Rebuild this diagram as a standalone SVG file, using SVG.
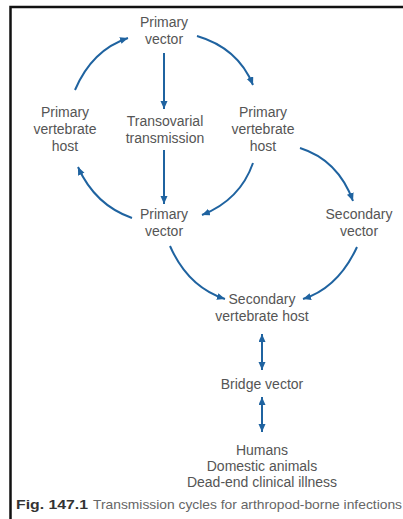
<svg xmlns="http://www.w3.org/2000/svg" width="403" height="519" viewBox="0 0 403 519">
<defs>
<marker id="ah" markerUnits="userSpaceOnUse" markerWidth="9" markerHeight="8" refX="8" refY="3.5" orient="auto-start-reverse">
<path d="M0,0 L8,3.5 L0,7 z" fill="#1f63a0"/>
</marker>
<style>
.t{font-family:"Liberation Sans",Arial,sans-serif;font-size:14px;fill:#555;text-anchor:middle}
.c{fill:none;stroke:#1f63a0;stroke-width:2}
.cap{font-family:"Liberation Sans",Arial,sans-serif;font-size:13px;fill:#666}
</style>
</defs>
<rect width="403" height="519" fill="#fff"/>
<path d="M10.5,519 V7 H403" fill="none" stroke="#111" stroke-width="2.5"/>
<g id="primary-vector-top"><text class="t" x="164" y="27">Primary</text><text class="t" x="164" y="44">vector</text></g>
<g id="primary-host-left"><text class="t" x="65" y="117">Primary</text><text class="t" x="65" y="134">vertebrate</text><text class="t" x="65" y="151">host</text></g>
<g id="transovarial"><text class="t" x="165" y="126">Transovarial</text><text class="t" x="165" y="143">transmission</text></g>
<g id="primary-host-right"><text class="t" x="263" y="117">Primary</text><text class="t" x="263" y="134">vertebrate</text><text class="t" x="263" y="151">host</text></g>
<g id="primary-vector-mid"><text class="t" x="164" y="219">Primary</text><text class="t" x="164" y="236">vector</text></g>
<g id="secondary-vector"><text class="t" x="359" y="219">Secondary</text><text class="t" x="359" y="236">vector</text></g>
<g id="secondary-host"><text class="t" x="262" y="304">Secondary</text><text class="t" x="262" y="321">vertebrate host</text></g>
<g id="bridge-vector"><text class="t" x="262" y="389">Bridge vector</text></g>
<g id="dead-end"><text class="t" x="262" y="455">Humans</text><text class="t" x="262" y="471">Domestic animals</text><text class="t" x="262" y="487">Dead-end clinical illness</text></g>
<g id="connectors">
<path class="c" d="M75,90 Q92,50 128,38" marker-end="url(#ah)"/>
<path class="c" d="M197,36 Q238,48 253,85" marker-end="url(#ah)"/>
<path class="c" d="M164,53 V109" marker-end="url(#ah)"/>
<path class="c" d="M164,150 V204" marker-end="url(#ah)"/>
<path class="c" d="M132,218 Q95,205 78,167" marker-end="url(#ah)"/>
<path class="c" d="M253,163 Q240,200 202,215" marker-end="url(#ah)"/>
<path class="c" d="M300,148 Q338,160 353,201" marker-end="url(#ah)"/>
<path class="c" d="M170,246 Q188,287 225,299" marker-end="url(#ah)"/>
<path class="c" d="M357,247 Q338,288 303,299" marker-end="url(#ah)"/>
<path class="c" d="M262,334 V370" marker-start="url(#ah)" marker-end="url(#ah)"/>
<path class="c" d="M262,397 V432" marker-start="url(#ah)" marker-end="url(#ah)"/>
</g>
<g id="caption">
<text class="cap" x="16" y="509" textLength="72" lengthAdjust="spacingAndGlyphs" style="font-weight:bold;fill:#333">Fig. 147.1</text>
<text class="cap" x="93" y="509" textLength="309" lengthAdjust="spacingAndGlyphs">Transmission cycles for arthropod-borne infections</text>
</g>
</svg>
